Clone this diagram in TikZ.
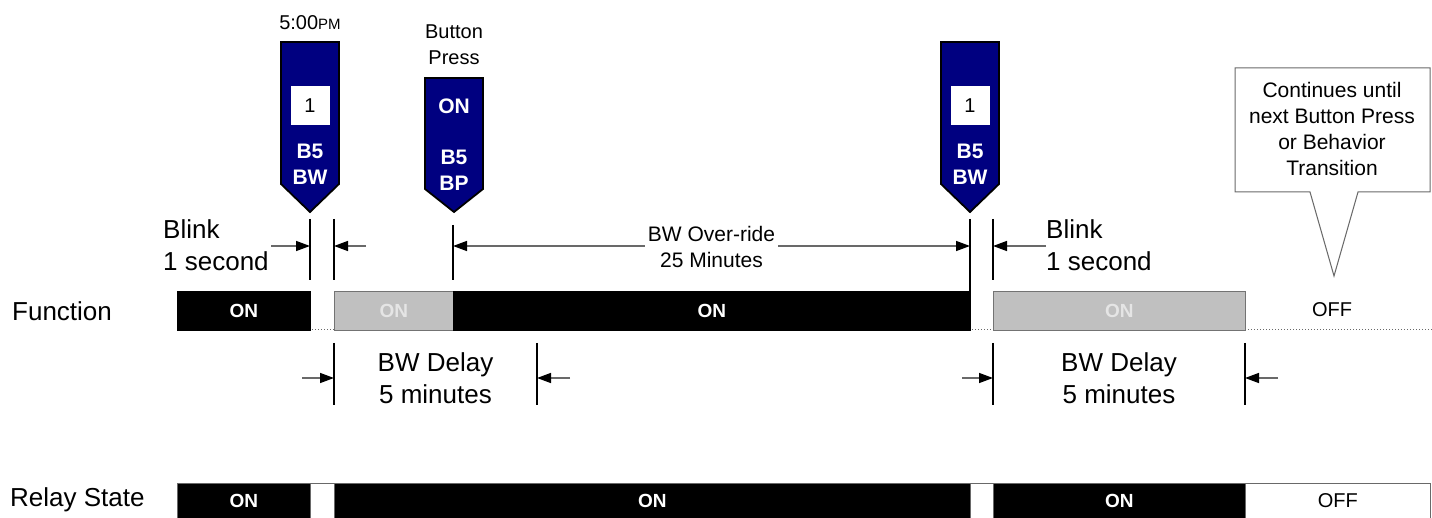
\documentclass[tikz,border=0pt]{standalone}
\usepackage{fontspec}
\setmainfont{Liberation Sans}
\usepackage{xcolor}
\usetikzlibrary{positioning,arrows.meta,calc}
\definecolor{flagnavy}{RGB}{0,0,128}
\definecolor{bargray}{RGB}{192,192,192}
\definecolor{dimgray}{RGB}{105,105,105}
\tikzset{
  seg/.style={line width=0.8pt, inner sep=0pt, minimum height=39pt, anchor=north west,
              font=\fontsize{19}{19}\selectfont\bfseries},
  relseg/.style={draw=dimgray, line width=0.8pt, inner sep=0pt, minimum height=35pt,
              anchor=north west},
  flag/.style={draw=black, fill=flagnavy, line width=1.8pt, line join=miter},
  flagtxt/.style={text=white, font=\fontsize{21}{26}\selectfont\bfseries, align=center, inner sep=0pt},
  numbox/.style={fill=white, minimum size=39pt, inner sep=0pt, font=\fontsize{20}{20}\selectfont},
  tick/.style={line width=2pt},
  dim/.style={draw=dimgray, line width=1.4pt, ->},
  lbl/.style={font=\fontsize{26}{32}\selectfont, align=left, inner sep=0pt},
  toplbl/.style={font=\fontsize{20}{26}\selectfont, align=center, inner sep=0pt},
  note/.style={font=\fontsize{21}{25.7}\selectfont, align=center, inner sep=0pt},
  callout/.style={draw=dimgray, fill=white, line width=1pt, line join=miter},
}

\begin{document}
\begin{tikzpicture}[x=1pt,y=-1pt,>={Triangle[length=14pt,width=10pt,color=black]}]
\useasboundingbox (0,0) rectangle (1432,518);

% function row
\draw[dimgray, dotted, line width=1pt] (177,330) -- (1432,330);
\foreach \a/\b/\c/\t/\n in {177/310/black/white/fa, 334/453/bargray/white!90!black/fb,
  453/970/black/white/fc, 993/1245/bargray/white!90!black/fd}
{
  \pgfmathsetmacro\w{\b-\a}
  \node[seg, draw=\c!60!black, fill=\c, text=\t, minimum width=\w pt] (\n) at (\a,291) {ON};
}
\node[font=\fontsize{20}{20}\selectfont, inner sep=0pt] (foff) at (1332,310) {OFF};
\node[lbl, anchor=west] (fn) at (12,311) {Function};

% relay row
\foreach \a/\b/\c/\t/\f/\n in {177/310/black/ON/white/ra, 310/334/white//black/rb,
  334/970/black/ON/white/rc, 970/993/white//black/rd, 993/1245/black/ON/white/re}
{
  \pgfmathsetmacro\w{\b-\a}
  \node[relseg, fill=\c, text=\f, minimum width=\w pt,
        font=\fontsize{19}{19}\selectfont\bfseries] (\n) at (\a,483) {\t};
}
\node[relseg, fill=white, minimum width=185pt, font=\fontsize{20}{20}\selectfont] (rf) at (1245,483) {OFF};
\node[lbl, anchor=west] (rs) at (10,500) {Relay State};

% flags
\foreach \x/\top/\sh in {310/42/184, 454/78/189, 970/42/184}
  \draw[flag] (\x-29,\top) -- (\x+29,\top) -- (\x+29,\sh) -- (\x,212) -- (\x-29,\sh) -- cycle;
\node[numbox] (n1) at (310,106) {1};
\node[flagtxt] (c1) at (310,164) {B5\\BW};
\node[flagtxt] (on2) at (454,106) {ON};
\node[flagtxt] (c2) at (454,170) {B5\\BP};
\node[numbox] (n3) at (970,106) {1};
\node[flagtxt] (c3) at (970,164) {B5\\BW};
\node[toplbl] (tm) at (310,23) {5:00{\fontsize{15}{15}\selectfont PM}};
\node[toplbl] (bp) at (454,45) {Button\\Press};

% callout
\draw[callout] (1235,68) -- (1430,68) -- (1430,192) -- (1358,192) -- (1334,276)
  -- (1310,192) -- (1235,192) -- cycle;
\node[note] (cont) at (1332,129) {Continues until\\next Button Press\\or Behavior\\Transition};

% ticks
\foreach \x/\ya/\yb in {310/219/280, 334/219/280, 453/225/280, 970/219/291, 993/219/280,
  334/343/405, 537/343/405, 993/343/405, 1245/343/405}
  \draw[tick] (\x,\ya) -- (\x,\yb);

% dimension arrows
\coordinate (bk1) at (310,246);
\coordinate (bk2) at (334,246);
\coordinate (ov1) at (453,246);
\coordinate (ov2) at (970,246);
\coordinate (bk3) at (993,246);
\coordinate (dl1) at (334,378);
\coordinate (dl2) at (537,378);
\coordinate (dl3) at (993,378);
\coordinate (dl4) at (1245,378);
\coordinate (bk1e) at (271,246);
\coordinate (bk2e) at (366,246);
\coordinate (bk3e) at (1046,246);
\coordinate (dl1e) at (302,378);
\coordinate (dl2e) at (570,378);
\coordinate (dl3e) at (962,378);
\coordinate (dl4e) at (1278,378);
\draw[dim] (bk1e) -- (bk1);
\draw[dim] (bk2e) -- (bk2);
\draw[dim, <->] (ov1) -- (ov2);
\draw[dim] (bk3e) -- (bk3);
\draw[dim] (dl1e) -- (dl1);
\draw[dim] (dl2e) -- (dl2);
\draw[dim] (dl3e) -- (dl3);
\draw[dim] (dl4e) -- (dl4);

% labels
\node[lbl, anchor=west] (blink1) at (163,245) {Blink\\1 second};
\node[lbl, anchor=west] (blink2) at (1046,245) {Blink\\1 second};
\node[note, fill=white, inner sep=3pt] (ovr) at ($(ov1)!0.5!(ov2)+(0,1)$) {BW Over-ride\\25 Minutes};
\node[lbl, align=center] (dly1) at ($(dl1)!0.5!(dl2)$) {BW Delay\\5 minutes};
\node[lbl, align=center] (dly2) at ($(dl3)!0.5!(dl4)$) {BW Delay\\5 minutes};
\end{tikzpicture}
\end{document}
